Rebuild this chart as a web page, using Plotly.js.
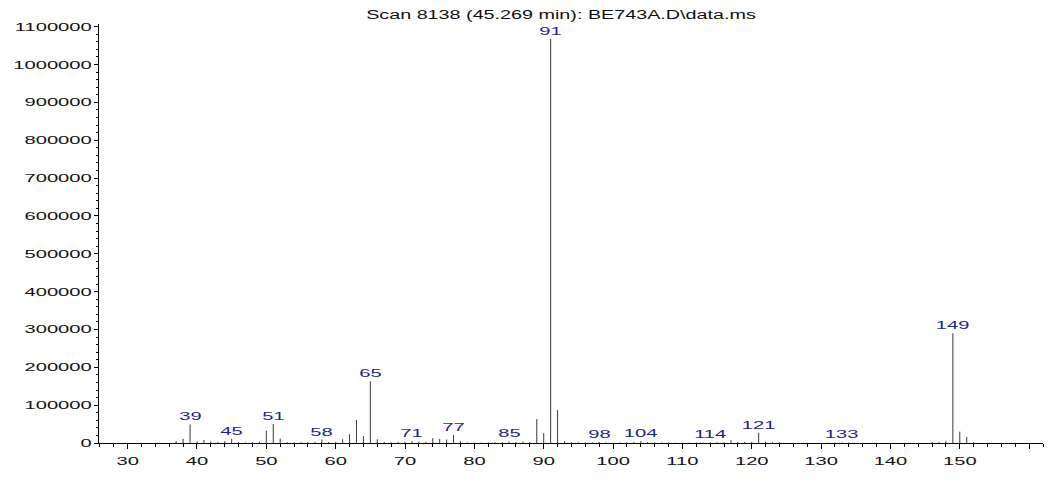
<!DOCTYPE html>
<html>
<head>
<meta charset="utf-8">
<script src="https://cdn.plot.ly/plotly-3.0.1.min.js"></script>
<style>
  html, body { margin: 0; padding: 0; background: #fff; }
  #chart { width: 1049px; height: 492px; }
</style>
</head>
<body>
<div id="chart"></div>
<script>
// ---- data (m/z and abundance) ----
const mz = [37,38,39,40,41,42,43,44,45,46,47,48,49,50,51,52,53,54,55,56,57,58,59,60,61,62,63,64,65,66,67,68,69,70,71,72,73,74,75,76,77,78,79,80,81,82,83,84,85,86,87,88,89,90,91,92,93,94,95,96,97,98,99,100,101,102,103,104,105,106,107,108,109,110,111,112,113,114,115,116,117,118,119,120,121,122,123,124,131,132,133,134,146,147,148,149,150,151,152];
const abundance = [5000,11000,49000,4000,8000,4000,2500,5000,11000,2500,1500,2000,3000,32000,50000,11500,2500,1500,2000,2000,3000,9000,2500,3000,10000,23000,61000,18500,163000,10000,3000,1500,2500,3000,5000,4000,3000,13000,11000,9000,21000,5000,1500,1200,1200,1500,1800,2000,4000,2500,4000,2500,63000,26000,1068000,87000,5000,2000,2000,1500,2000,2500,1500,1200,1500,2000,2500,5000,2500,1500,1500,1200,1000,1000,1000,1000,1200,1500,2000,1500,8000,2500,3000,3000,27000,4000,2500,1500,1000,1200,1500,1000,2500,2500,5000,290000,30000,16000,2000];
const labeledMz = [39,45,51,58,65,71,77,85,91,98,104,114,121,133,149];
const xTickVals = [30,40,50,60,70,80,90,100,110,120,130,140,150,160];
const xTickText = ['30','40','50','60','70','80','90','100','110','120','130','140','150',''];
const titleText = 'Scan 8138 (45.269 min): BE743A.D\\data.ms';

// ---- build stick segments from the data ----
const sx = [], sy = [];
mz.forEach((m, i) => { sx.push(m, m, null); sy.push(0, abundance[i], null); });

const font = 'Liberation Sans, Arial, sans-serif';
const annotations = labeledMz.map(m => ({
  x: m, y: abundance[mz.indexOf(m)], xref: 'x', yref: 'y',
  text: String(m), showarrow: false, xanchor: 'center', yanchor: 'bottom', yshift: 0,
  font: { family: font, size: 11.5, color: '#1f1f8c' }
}));

const trace = {
  x: sx, y: sy, type: 'scatter', mode: 'lines',
  line: { color: '#3a3a3a', width: 1 }, hoverinfo: 'skip', showlegend: false
};

const layout = {
  width: 1049, height: 492,
  margin: { l: 99, r: 6, t: 24, b: 49 },
  paper_bgcolor: '#fff', plot_bgcolor: '#fff',
  title: { text: titleText, xref: 'container', yref: 'container', x: 561/1049, xanchor: 'center', y: 1 - 15/492, yanchor: 'middle',
           font: { family: font, size: 12.5, color: '#111' } },
  xaxis: {
    range: [25.87, 162], showgrid: false, zeroline: false,
    showline: true, linecolor: '#000', linewidth: 1,
    tickmode: 'array', tickvals: xTickVals, ticktext: xTickText,
    ticks: 'outside', ticklen: 5, tickcolor: '#000', tickwidth: 1,
    ticklabelstandoff: 2,
    minor: { tickmode: 'linear', tick0: 0, dtick: 2, ticks: 'outside', ticklen: 3, tickcolor: '#000', tickwidth: 1, showgrid: false },
    tickfont: { family: font, size: 11.5, color: '#111' }
  },
  yaxis: {
    range: [0, 1107000], showgrid: false, zeroline: false,
    showline: true, linecolor: '#000', linewidth: 1,
    tickmode: 'linear', tick0: 0, dtick: 100000, tickformat: 'd',
    ticks: 'outside', ticklen: 4, tickcolor: '#000', tickwidth: 1,
    minor: { tickmode: 'linear', tick0: 0, dtick: 20000, ticks: 'outside', ticklen: 2, tickcolor: '#000', tickwidth: 1, showgrid: false },
    tickfont: { family: font, size: 11.5, color: '#111' }
  },
  annotations: annotations
};

Plotly.newPlot('chart', [trace], layout, { staticPlot: true, displayModeBar: false }).then(gd => {
  // the reference text is horizontally stretched: widen glyphs to match
  gd.querySelectorAll('svg.main-svg text').forEach(t => {
    const isTitle = t.classList.contains('gtitle');
    const k = isTitle ? 1.58 : 1.75;
    const L = t.getComputedTextLength();
    if (L > 0) {
      t.setAttribute('textLength', (L * k).toFixed(1));
      t.setAttribute('lengthAdjust', 'spacingAndGlyphs');
    }
  });
});
</script>
</body>
</html>
